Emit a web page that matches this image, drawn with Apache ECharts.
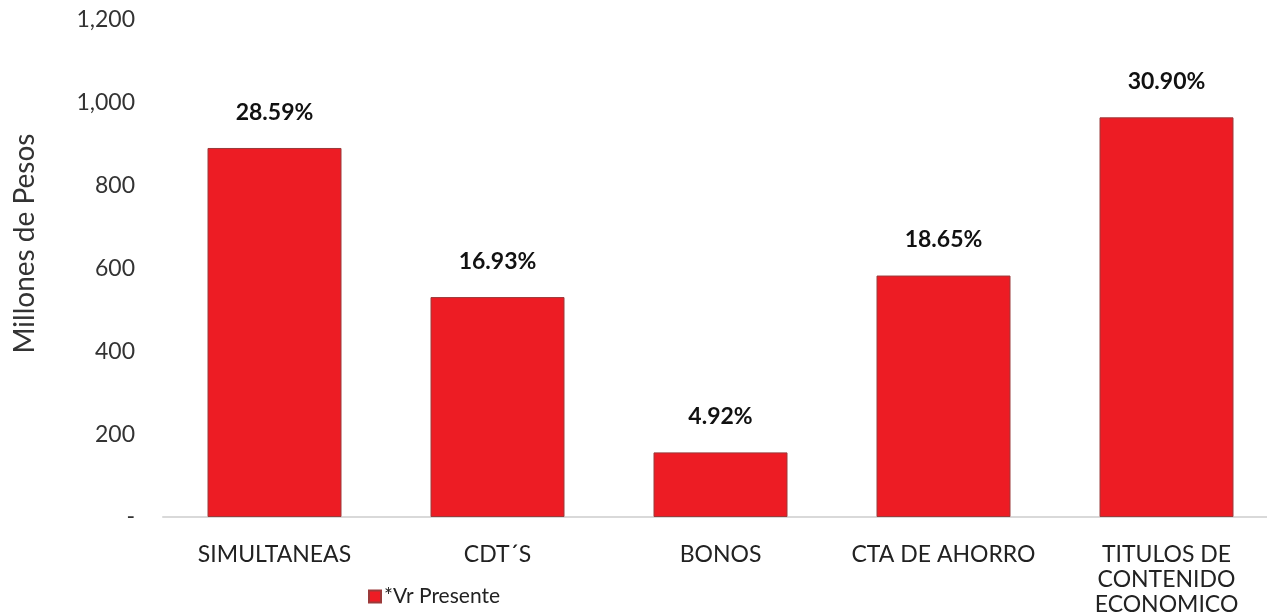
<!DOCTYPE html>
<html>
<head>
<meta charset="utf-8">
<script src="https://cdn.jsdelivr.net/npm/echarts@6/dist/echarts.min.js"></script>
<style>
html, body { margin: 0; padding: 0; background: #fff; }
#chart { width: 1267px; height: 616px; }
</style>
</head>
<body>
<div id="chart"></div>
<script>
const categories = ["SIMULTANEAS", "CDT´S", "BONOS", "CTA DE AHORRO", "TITULOS DE\nCONTENIDO\nECONOMICO"];
const values = [891, 531, 156, 583, 965];
const shares = ["28.59%", "16.93%", "4.92%", "18.65%", "30.90%"];
const yTicks = [0, 200, 400, 600, 800, 1000, 1200];

const font = "Lato, 'Open Sans', sans-serif";

const chart = echarts.init(document.getElementById("chart"));
chart.setOption({
	animation: false,
	grid: {
		left: 163,
		top: 20,
		width: 1115,
		height: 497,
		containLabel: false,
		outerBoundsMode: "none"
	},
	legend: {
		left: 363,
		top: 581,
		icon: "rect",
		itemWidth: 12,
		itemHeight: 12,
		itemGap: 4,
		textStyle: {
			fontFamily: font,
			fontSize: 21,
			color: "#222",
			padding: [0, 0, 0, -2]
		},
		data: ["*Vr Presente"]
	},
	xAxis: {
		type: "category",
		data: categories,
		axisLine: {
			show: true,
			lineStyle: { color: "#d9d9d9", width: 2 }
		},
		axisTick: { show: false },
		axisLabel: {
			margin: 25,
			interval: 0,
			fontFamily: font,
			fontSize: 23,
			lineHeight: 25,
			color: "#222"
		}
	},
	yAxis: {
		type: "value",
		min: yTicks[0],
		max: yTicks[yTicks.length - 1],
		interval: 200,
		name: "Millones de Pesos",
		nameLocation: "middle",
		nameGap: 124,
		nameRotate: 90,
		nameTextStyle: {
			fontFamily: font,
			fontSize: 28,
			color: "#333",
			padding: [0, 0, 0, 50]
		},
		axisLine: { show: false },
		axisTick: { show: false },
		splitLine: { show: false },
		axisLabel: {
			margin: 28,
			fontFamily: font,
			fontSize: 23,
			color: "#333",
			formatter: function (v) {
				return v === 0 ? "-" : v.toLocaleString("en-US");
			}
		}
	},
	series: [
		{
			name: "*Vr Presente",
			type: "bar",
			barWidth: 134,
			data: values,
			itemStyle: {
				color: "#ed1c24",
				borderColor: "#9b3a3a",
				borderWidth: 1
			},
			label: {
				show: true,
				position: "top",
				distance: 24,
				fontFamily: font,
				fontSize: 23,
				fontWeight: "bold",
				color: "#111",
				formatter: function (p) {
					return shares[p.dataIndex];
				}
			}
		}
	]
});
</script>
</body>
</html>
